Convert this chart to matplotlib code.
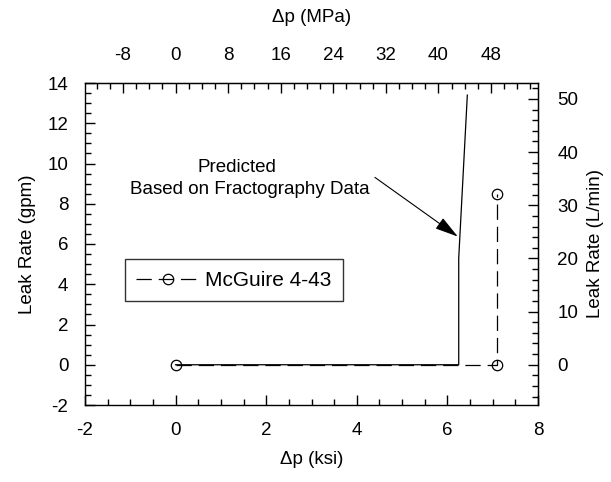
import matplotlib
matplotlib.use("Agg")
import matplotlib.pyplot as plt
from matplotlib.ticker import MultipleLocator

plt.rcParams['font.family'] = ['Liberation Sans', 'DejaVu Sans']
plt.rcParams['lines.scale_dashes'] = False
plt.rcParams['axes.unicode_minus'] = False

# Data
mcguire_x = [0.0, 7.1, 7.1]
mcguire_y = [0.0, 0.0, 8.5]
pred_x = [0.0, 6.25, 6.25, 6.44]
pred_y = [0.0, 0.0, 5.3, 13.4]

KSI_TO_MPA = 6.895
GPM_TO_LPM = 3.785
FS = 13.5

fig = plt.figure(figsize=(6.11, 4.82), dpi=100)
ax = fig.add_axes([85/611, 1-405/482, 453/611, 322/482])

ax.plot(mcguire_x, mcguire_y, color='black', lw=0.9, dashes=(11, 5),
        marker='o', markersize=7.5, markerfacecolor='none', markeredgewidth=0.9,
        label='McGuire 4-43')
ax.plot(pred_x, pred_y, color='black', lw=0.9)

ax.set_xlim(-2, 8)
ax.set_ylim(-2, 14)
ax.xaxis.set_major_locator(MultipleLocator(2))
ax.xaxis.set_minor_locator(MultipleLocator(0.5))
ax.yaxis.set_major_locator(MultipleLocator(2))
ax.yaxis.set_minor_locator(MultipleLocator(0.5))
ax.tick_params(which='both', direction='in', top=False, right=False, labelsize=FS, pad=12)
ax.tick_params(which='major', length=7, width=1)
ax.tick_params(which='minor', length=4, width=1)
for s in ax.spines.values():
    s.set_linewidth(1)

ax.set_xlabel('Δp (ksi)', fontsize=FS, labelpad=9)
ax.set_ylabel('Leak Rate (gpm)', fontsize=FS, labelpad=8)

top = ax.secondary_xaxis('top', functions=(lambda x: x*KSI_TO_MPA, lambda x: x/KSI_TO_MPA))
top.xaxis.set_major_locator(MultipleLocator(8))
top.xaxis.set_minor_locator(MultipleLocator(2))
top.tick_params(which='both', direction='in', labelsize=FS, pad=14)
top.tick_params(which='major', length=7, width=1)
top.tick_params(which='minor', length=4, width=1)
top.set_xlabel('Δp (MPa)', fontsize=FS, labelpad=18)

right = ax.secondary_yaxis('right', functions=(lambda y: y*GPM_TO_LPM, lambda y: y/GPM_TO_LPM))
right.yaxis.set_major_locator(MultipleLocator(10))
right.yaxis.set_minor_locator(MultipleLocator(2))
right.tick_params(which='both', direction='in', labelsize=FS, pad=14)
right.tick_params(which='major', length=7, width=1)
right.tick_params(which='minor', length=4, width=1)
right.set_ylabel('Leak Rate (L/min)', fontsize=FS, labelpad=6)

ax.text(1.36, 9.79, 'Predicted', ha='center', va='center', fontsize=FS)
ax.text(1.64, 8.70, 'Based on Fractography Data', ha='center', va='center', fontsize=FS)
ax.annotate('', xy=(6.23, 6.37), xytext=(4.40, 9.31),
            arrowprops=dict(arrowstyle='-|>,head_length=0.9,head_width=0.25',
                            color='black', lw=0.8,
                            mutation_scale=16, shrinkA=0, shrinkB=0))

leg = ax.legend(loc='upper left', bbox_to_anchor=(0.088, 0.452), fontsize=15,
                frameon=True, fancybox=False, edgecolor='black', handlelength=3.0,
                handletextpad=0.3, borderpad=0.55, borderaxespad=0)
leg.get_frame().set_linewidth(1)

fig.savefig('out.png', dpi=100)
